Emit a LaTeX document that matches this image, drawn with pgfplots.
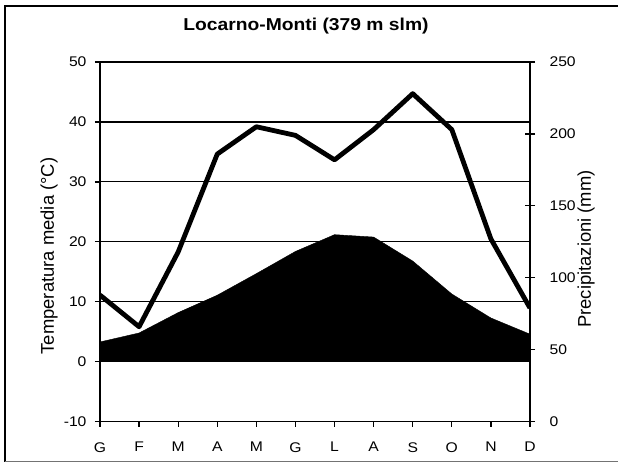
\documentclass[border=0pt]{standalone}
\usepackage{fontspec}
\setmainfont[FakeStretch=1.12]{Liberation Sans}
\newfontfamily\labelfont{Liberation Sans}
\usepackage{pgfplots}
\pgfplotsset{compat=1.18}

% temperatura media (°C) e precipitazioni (mm), mesi G..D
\pgfplotstableread{
m  temp  prec
0  3.3   88
1  4.8   66
2  8.2   118
3  11.1  186
4  14.7  205
5  18.4  199
6  21.2  182
7  20.8  203
8  16.8  228
9  11.3  203
10 7.3   127
11 4.6   79
}\clima

\begin{document}
\begin{tikzpicture}[x=1pt,y=1pt]
\useasboundingbox (-100,-41.3) rectangle (518,421.7);
\draw[line width=1.2pt] (-95,-40) -- (-95,415.7) -- (518,415.7);
\draw[line width=0.8pt, black!55] (-95,-40) -- (518,-40);

\begin{axis}[
  at={(0,0)}, anchor=south west,
  scale only axis, width=430pt, height=359.7pt,
  xmin=0, xmax=11, ymin=-10, ymax=50,
  axis x line*=bottom, axis y line*=left,
  axis line style={line width=1.3pt},
  xtick={0,...,11},
  xticklabels={G,F,M,A,M,G,L,A,S,O,N,D},
  ytick={-10,0,...,50},
  ymajorgrids,
  grid style={black, line width=1.1pt},
  tick style={black, line width=1.2pt},
  major tick length=5pt, tick align=outside,
  ticklabel style={font=\fontsize{14}{16}\selectfont},
  /pgf/number format/assume math mode=true,
  xticklabel style={yshift=-12pt},
  yticklabel style={xshift=-5pt},
]
\addplot[fill=black, draw=black] table[x=m, y=temp] {\clima} \closedcycle;
\end{axis}

\begin{axis}[
  at={(0,0)}, anchor=south west,
  scale only axis, width=430pt, height=359.7pt,
  xmin=0, xmax=11, ymin=0, ymax=250,
  axis x line=none, axis y line*=right,
  axis line style={line width=1.3pt},
  ytick={0,50,...,250},
  tick style={black, line width=1.2pt},
  major tick length=10pt, tick align=center,
  ticklabel style={font=\fontsize{14}{16}\selectfont},
  /pgf/number format/assume math mode=true,
  yticklabel style={xshift=11pt},
]
\addplot[black, line width=4.8pt, line join=round] table[x=m, y=prec] {\clima};
\end{axis}

\node[font=\bfseries\fontsize{17.2}{20}\selectfont] at (206,395.7) {Locarno-Monti (379 m slm)};
\node[rotate=90, font=\labelfont\fontsize{18.4}{21}\selectfont] at (-51,165.7) {Temperatura media (°C)};
\node[rotate=90, font=\labelfont\fontsize{18.4}{21}\selectfont] at (486,172.7) {Precipitazioni (mm)};
\end{tikzpicture}
\end{document}
